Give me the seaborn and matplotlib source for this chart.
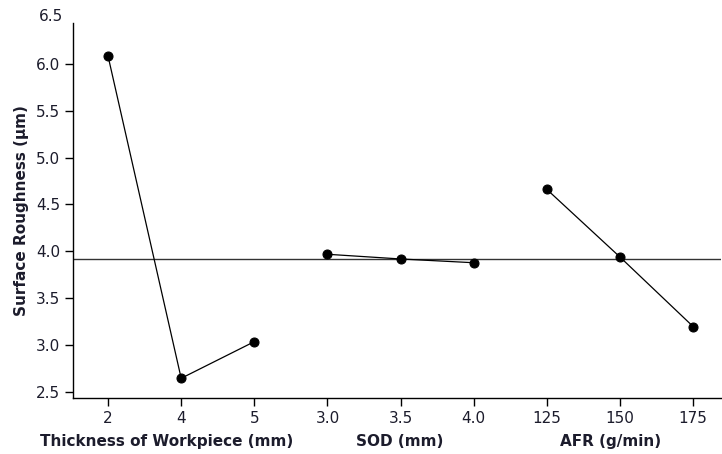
import matplotlib
matplotlib.use("Agg")
import matplotlib.pyplot as plt
import matplotlib.transforms as mtransforms
import seaborn as sns
import pandas as pd
import numpy as np

# ---- data ----
factors = ["Thickness of Workpiece (mm)", "SOD (mm)", "AFR (g/min)"]
thickness_levels = ["2", "4", "5"]
thickness_means = [6.08, 2.65, 3.04]
sod_levels = ["3.0", "3.5", "4.0"]
sod_means = [3.97, 3.92, 3.88]
afr_levels = ["125", "150", "175"]
afr_means = [4.66, 3.94, 3.20]
grand_mean = 3.925
y_ticks = [2.5, 3.0, 3.5, 4.0, 4.5, 5.0, 5.5, 6.0]
y_label = "Surface Roughness (µm)"

levels = [thickness_levels, sod_levels, afr_levels]
means = [thickness_means, sod_means, afr_means]

rows = []
pos = 0
for f, lv, mv in zip(factors, levels, means):
    for l, m in zip(lv, mv):
        rows.append({"factor": f, "level": l, "pos": pos, "mean": m})
        pos += 1
df = pd.DataFrame(rows)

sns.set_style("ticks")
plt.rcParams["font.family"] = ["DejaVu Sans"]
txt_color = "#1c1c2c"
fs = 11

fig = plt.figure(figsize=(7.22, 4.54), dpi=100)
ax = fig.add_axes([0.101, 0.1233, 0.8976, 0.8257])

ax.axhline(grand_mean, color="#333333", lw=1.0, zorder=1)
sns.lineplot(data=df, x="pos", y="mean", units="factor", estimator=None,
             color="black", lw=0.9, marker="o", markersize=6.5,
             markeredgecolor="black", ax=ax, legend=False, zorder=3)

ax.set_xlim(-0.48, 8.38)
ax.set_ylim(2.44, 6.43)
ax.set_xticks(df["pos"])
ax.set_xticklabels(df["level"])
ax.set_yticks(y_ticks)
ax.set_yticklabels([f"{v:.1f}" for v in y_ticks])
ax.tick_params(axis="both", labelsize=fs, labelcolor=txt_color,
               length=6, width=1, color="black", pad=3)
# top label (6.5) above the plotting area
trans = mtransforms.blended_transform_factory(ax.transAxes, ax.transData)
ax.text(-0.0155, 6.5, "6.5", transform=trans, ha="right", va="center",
        fontsize=fs, color=txt_color, clip_on=False)

for s in ["top", "right"]:
    ax.spines[s].set_visible(False)
for s in ["left", "bottom"]:
    ax.spines[s].set_linewidth(1.0)
    ax.spines[s].set_color("black")

ax.set_xlabel("")
ax.set_ylabel(y_label, fontsize=fs, fontweight="bold", color=txt_color, labelpad=5)

# factor labels under each group
label_pos = [0.8, 3.99, 6.87]
trans2 = mtransforms.blended_transform_factory(ax.transData, fig.transFigure)
for f, xp in zip(factors, label_pos):
    ax.text(xp, 1 - 446 / 454, f, transform=trans2, ha="center", va="baseline",
            fontsize=fs, fontweight="bold", color=txt_color)

fig.savefig("out.png", dpi=100)
